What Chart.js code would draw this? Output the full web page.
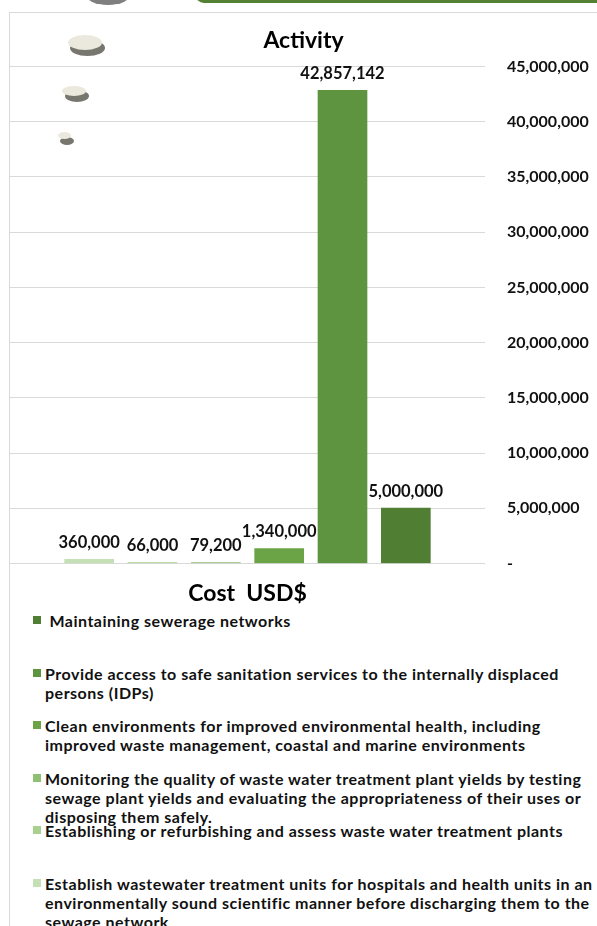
<!DOCTYPE html>
<html>
<head>
<meta charset="utf-8">
<title>Activity</title>
<script src="https://cdn.jsdelivr.net/npm/chart.js@4.4.1/dist/chart.umd.min.js"></script>
<style>
  body { margin: 0; background: #fff; }
  #page { position: relative; width: 597px; height: 926px; overflow: hidden; font-family: Lato, "Open Sans", sans-serif; }
  .frameTop { position: absolute; left: 9px; top: 12px; width: 600px; height: 1px; background: #d9d9d9; }
  .frameLeft { position: absolute; left: 9px; top: 12px; width: 1px; height: 930px; background: #d9d9d9; }
  .ribbon { position: absolute; left: 195px; top: -10px; width: 420px; height: 13px; background: #548235; border-bottom-left-radius: 9px; }
  .blob { position: absolute; left: 85px; top: -18px; width: 46px; height: 23px; border-radius: 50%; background: #7f7f7f; }
  .pebble { position: absolute; border-radius: 50%; }
  .pebble.dark { background: #77776f; }
  .pebble.light { background: #ebe9dd; }
  #chartBox { position: absolute; left: 10px; top: 14px; width: 587px; height: 597px; }
  .legendItem { position: absolute; left: 33px; width: 570px; }
  .legendItem .swatch { position: absolute; left: 0; top: 5px; width: 8px; height: 8px; }
  .legendItem .txt { position: absolute; left: 12px; top: 0; width: 556px; white-space: pre-wrap;
    font-weight: 700; font-size: 16px; letter-spacing: 0.5px; line-height: 19px; color: #111; }
</style>
</head>
<body>
<div id="page">
  <div class="blob"></div>
  <div class="ribbon"></div>
  <div class="frameTop"></div>
  <div class="frameLeft"></div>

  <!-- little stone shapes on the left -->
  <div class="pebble dark" style="left:70px;top:40px;width:35px;height:16px"></div>
  <div class="pebble light" style="left:68px;top:35px;width:34px;height:15px"></div>
  <div class="pebble dark" style="left:65px;top:90px;width:24px;height:12px"></div>
  <div class="pebble light" style="left:62px;top:86px;width:24px;height:10px"></div>
  <div class="pebble dark" style="left:60px;top:137px;width:14px;height:8px"></div>
  <div class="pebble light" style="left:58px;top:132px;width:13px;height:7px"></div>

  <div id="chartBox"><canvas id="grafico"></canvas></div>
  <div id="legenda"></div>
</div>

<script>
// activities in bar order (left to right)
const atividades = [
  "Establish wastewater treatment units for hospitals and health units in an environmentally sound scientific manner before discharging them to the sewage network",
  "Establishing or refurbishing and assess waste water treatment plants",
  "Monitoring the quality of waste water treatment plant yields by testing sewage plant yields and evaluating the appropriateness of their uses or disposing them safely.",
  "Clean environments for improved environmental health, including improved waste management, coastal and marine environments",
  "Provide access to safe sanitation services to the internally displaced persons (IDPs)",
  " Maintaining sewerage networks"
];
const custos = [360000, 66000, 79200, 1340000, 42857142, 5000000];
const cores = ["#c5e0b4", "#a9d08e", "#8fbf72", "#6ba446", "#5e9440", "#507f33"];
const ticksY = [0, 5000000, 10000000, 15000000, 20000000, 25000000, 30000000, 35000000, 40000000, 45000000];

const fonte = "Lato, 'Open Sans', sans-serif";

function formatar(v) {
  return v === 0 ? "-" : v.toLocaleString("en-US");
}

// value labels above each bar
const rotulosBarras = {
  id: "rotulosBarras",
  afterDatasetsDraw(chart) {
    const ctx = chart.ctx;
    ctx.save();
    ctx.font = "bold 16.5px " + fonte;
    ctx.fillStyle = "#111";
    ctx.textAlign = "center";
    ctx.textBaseline = "middle";
    chart.data.datasets.forEach((ds, i) => {
      const barra = chart.getDatasetMeta(i).data[0];
      ctx.fillText(formatar(ds.data[0].y), barra.x, barra.y - 17);
    });
    ctx.restore();
  }
};

new Chart(document.getElementById("grafico"), {
  type: "bar",
  data: {
    datasets: atividades.map((nome, i) => ({
      label: nome,
      data: [{ x: i + 1, y: custos[i] }],
      backgroundColor: cores[i],
      grouped: false,
      barThickness: 49
    }))
  },
  options: {
    responsive: true,
    maintainAspectRatio: false,
    animation: false,
    layout: { padding: { left: 0, right: 0, top: 0, bottom: 4 } },
    plugins: {
      legend: { display: false },
      tooltip: { enabled: false },
      title: {
        display: true,
        text: "Activity",
        color: "#000",
        font: { family: fonte, size: 23, weight: "bold" },
        padding: { top: 13, bottom: 12 }
      }
    },
    scales: {
      x: {
        type: "linear",
        offset: false,
        min: -0.25,
        max: 7.25,
        grid: { display: false },
        border: { display: false },
        ticks: { display: false },
        afterBuildTicks: s => { s.ticks = custos.map((c, i) => ({ value: i + 1 })); },
        title: {
          display: true,
          text: "Cost  USD$",
          color: "#000",
          font: { family: fonte, size: 23, weight: "bold" },
          padding: { top: 8, bottom: 0 }
        }
      },
      y: {
        position: "right",
        min: 0,
        max: 45000000,
        afterBuildTicks: s => { s.ticks = ticksY.map(v => ({ value: v })); },
        afterFit: s => { s.width = 112; },
        grid: { color: "#d9d9d9", drawTicks: false },
        border: { display: false },
        ticks: {
          padding: 22,
          color: "#111",
          font: { family: fonte, size: 16, weight: "bold" },
          callback: v => formatar(v)
        }
      }
    }
  },
  plugins: [rotulosBarras]
});

// legend list, last activity first
const legenda = document.getElementById("legenda");
const ordem = atividades.map((a, i) => i).reverse();
ordem.forEach((idx, pos) => {
  const item = document.createElement("div");
  item.className = "legendItem";
  item.style.top = (611 + pos * 52.6) + "px";
  item.innerHTML = '<div class="swatch" style="background:' + cores[idx] + '"></div>' +
    '<div class="txt"></div>';
  item.querySelector(".txt").textContent = atividades[idx];
  legenda.appendChild(item);
});
</script>
</body>
</html>
